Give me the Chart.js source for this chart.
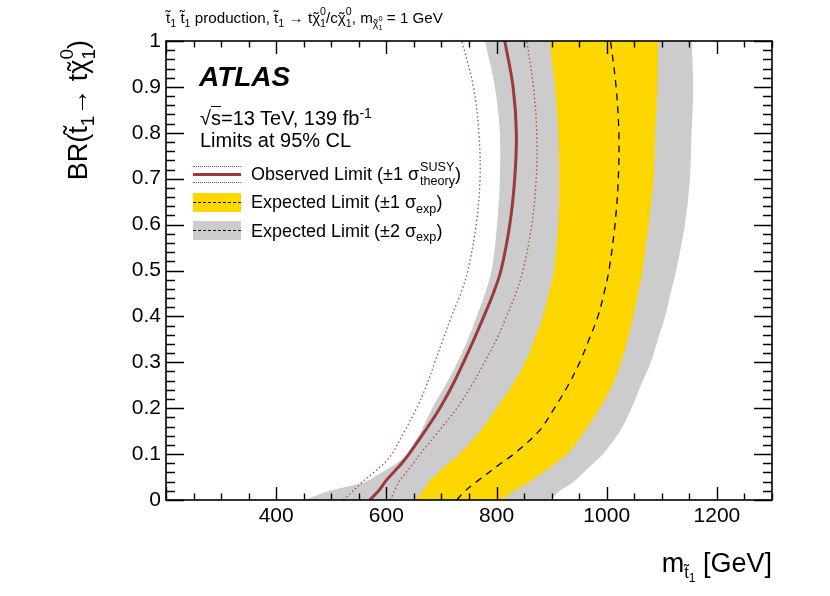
<!DOCTYPE html>
<html>
<head>
<meta charset="utf-8">
<script src="https://cdn.jsdelivr.net/npm/chart.js@4.4.1/dist/chart.umd.min.js"></script>
<style>
  body { margin: 0; background: #fff; }
  #wrap { position: relative; width: 830px; height: 596px; font-family: "Liberation Sans", Arial, sans-serif; color: #000; }
  #limits { position: absolute; left: 0; top: 0; }
  .txt { position: absolute; line-height: 1; white-space: nowrap; }
  .txt sub, .txt sup { font-size: 70%; vertical-align: baseline; position: relative; line-height: 1; }
  .txt sub { top: 0.35em; }
  .txt sup { top: -0.5em; }
  .ss { display: inline-block; position: relative; vertical-align: baseline; font-size: 70%; line-height: 1; }
  .ss .u { display: block; position: relative; top: -0.72em; height: 0; }
  .ss .d { display: block; position: relative; top: 0.4em; }
  .tc { position: relative; display: inline-block; }
  .tc i { position: absolute; left: 0; right: 0; top: 0; text-align: center; font-style: normal; }
  .sym { position: absolute; }
</style>
</head>
<body>
<div id="wrap">
  <canvas id="limits" width="830" height="596"></canvas>

  <div class="txt" style="left:166px;top:10px;font-size:15.2px">t&#771;<sub>1</sub> t&#771;<sub>1</sub> production, t&#771;<sub>1</sub> &rarr; t<span class="tc">&chi;<i>&#732;</i></span><span class="ss"><span class="u">0</span><span class="d">1</span></span>/c<span class="tc">&chi;<i>&#732;</i></span><span class="ss"><span class="u">0</span><span class="d">1</span></span>, m<sub><span class="tc">&chi;<i>&#732;</i></span><span class="ss"><span class="u">0</span><span class="d">1</span></span></sub> = 1 GeV</div>

  <div class="txt" style="left:199px;top:63.3px;font-size:28px;font-weight:bold;font-style:italic">ATLAS</div>
  <div class="txt" style="left:200px;top:108.1px;font-size:20px">&radic;<span style="border-top:1px solid #000">s</span>=13 TeV, 139 fb<sup>-1</sup></div>
  <div class="txt" style="left:200px;top:130.4px;font-size:20px">Limits at 95% CL</div>

  <div class="sym" style="left:193px;top:166px;width:48px;border-top:1.3px dotted #b04848"></div>
  <div class="sym" style="left:193px;top:172.8px;width:48px;height:3px;background:#9c3a3a"></div>
  <div class="sym" style="left:193px;top:181.5px;width:48px;border-top:1.3px dotted #b04848"></div>
  <div class="sym" style="left:193px;top:192.7px;width:48px;height:19px;background:#ffd700"></div>
  <div class="sym" style="left:193px;top:201.5px;width:48px;border-top:1.2px dashed #000"></div>
  <div class="sym" style="left:193px;top:220.7px;width:48px;height:19.3px;background:#cccccc"></div>
  <div class="sym" style="left:193px;top:229.7px;width:48px;border-top:1.2px dashed #000"></div>

  <div class="txt" style="left:251px;top:164.8px;font-size:18px">Observed Limit (&plusmn;1 &sigma;<span class="ss" style="margin-left:1px"><span class="u">SUSY</span><span class="d">theory</span></span>)</div>
  <div class="txt" style="left:251px;top:193.1px;font-size:18px">Expected Limit (&plusmn;1 &sigma;<sub>exp</sub>)</div>
  <div class="txt" style="left:251px;top:221.5px;font-size:18px">Expected Limit (&plusmn;2 &sigma;<sub>exp</sub>)</div>

  <div class="txt" style="left:65px;top:340px;width:300px;text-align:right;font-size:27px;transform-origin:0 0;transform:rotate(-90deg)">BR(t&#771;<sub>1</sub>&rarr; t<span class="tc">&chi;<i>&#732;</i></span><span class="ss"><span class="u">0</span><span class="d">1</span></span>)</div>
  <div class="txt" style="right:58px;top:550px;text-align:right;font-size:27px">m<sub style="font-size:60%;top:0.4em">t&#771;<sub style="font-size:75%;top:0.25em">1</sub></sub> [GeV]</div>
</div>

<script>
// Branching ratio grid (y) shared by all contours
var brValues = [0, 0.02, 0.04, 0.06, 0.08, 0.1, 0.15, 0.2, 0.25, 0.3, 0.35, 0.4, 0.45, 0.5, 0.6, 0.7, 0.8, 0.9, 1];

// Stop mass limits [GeV] at each BR value
var obsMass      = [570, 586, 598, 613, 628, 641, 670, 697, 720, 740, 759, 777, 794, 808, 824, 833, 836, 830, 815];
var obsDownMass  = [522, 540, 557, 577, 596, 610, 633, 655, 673, 688, 703, 718, 735, 748, 763, 770, 768, 758, 737];
var obsUpMass    = [607, 615, 623, 636, 649, 661, 695, 728, 755, 778, 800, 818, 835, 848, 864, 872, 873, 867, 855];
var expMass      = [728, 743, 764, 786, 808, 831, 877, 905, 930, 951, 968, 984, 995, 1004, 1015, 1021, 1022, 1017, 1007];
var exp1LowMass  = [652, 666, 678, 694, 713, 733, 770, 800, 828, 852, 869, 884, 895, 904, 912, 914, 912, 906, 896];
var exp1HighMass = [808, 832, 860, 884, 907, 928, 960, 987, 1010, 1026, 1038, 1048, 1057, 1065, 1076, 1085, 1088, 1092, 1093];
var exp2LowMass  = [452, 497, 562, 591, 619, 637, 663, 683, 707, 729, 748, 764, 779, 791, 801, 806, 806, 797, 779];
var exp2HighMass = [898, 915, 940, 958, 976, 993, 1024, 1045, 1062, 1080, 1093, 1106, 1116, 1126, 1142, 1151, 1154, 1157, 1154];

// Axis tick labels
var xTickLabels = [400, 600, 800, 1000, 1200];
var yTickLabels = [0, 0.1, 0.2, 0.3, 0.4, 0.5, 0.6, 0.7, 0.8, 0.9, 1];

var curve = function(masses) {
  return masses.map(function(m, i) { return {x: m, y: brValues[i]}; });
};
// closed contour: up the low edge, down the high edge.
// corner points are doubled so the spline keeps sharp corners
var band = function(low, high) {
  var up = curve(low);
  var down = curve(high).reverse();
  up.unshift(up[0]);
  up.push(up[up.length - 1]);
  down.unshift(down[0]);
  down.push(down[down.length - 1]);
  return up.concat(down);
};

// ROOT style frame with inward ticks on all four sides
var frameTicks = {
  id: 'frameTicks',
  afterDatasetsDraw: function(chart) {
    var ctx = chart.ctx;
    var a = chart.chartArea;
    var sx = chart.scales.x;
    var sy = chart.scales.y;
    var v, px, len;
    ctx.save();
    ctx.strokeStyle = '#000';
    ctx.lineWidth = 1.4;
    ctx.beginPath();
    for (v = 200; v <= 1300; v += 50) {
      px = Math.round(sx.getPixelForValue(v)) + 0.5;
      len = (v % 200 === 0) ? 13 : 6.5;
      ctx.moveTo(px, a.bottom); ctx.lineTo(px, a.bottom - len);
      ctx.moveTo(px, a.top); ctx.lineTo(px, a.top + len);
    }
    for (var i = 0; i <= 50; i++) {
      px = Math.round(sy.getPixelForValue(i * 0.02)) + 0.5;
      len = (i % 5 === 0) ? 18 : 9;
      ctx.moveTo(a.left, px); ctx.lineTo(a.left + len, px);
      ctx.moveTo(a.right, px); ctx.lineTo(a.right - len, px);
    }
    ctx.stroke();
    ctx.lineWidth = 1.6;
    ctx.strokeRect(a.left, a.top, a.right - a.left, a.bottom - a.top);
    ctx.restore();
  }
};

Chart.defaults.font.family = '"Liberation Sans", Arial, sans-serif';
Chart.defaults.color = '#000';

var ctx = document.getElementById('limits').getContext('2d');
var limitChart = new Chart(ctx, {
  type: 'line',
  data: {
    datasets: [{
      label: 'Expected',
      data: curve(expMass),
      borderColor: '#000',
      borderWidth: 1.3,
      borderDash: [7, 6],
      fill: false,
      order: 1
    }, {
      label: 'Observed',
      data: curve(obsMass),
      borderColor: '#9c3a3a',
      borderWidth: 3,
      fill: false,
      order: 1
    }, {
      label: 'Observed -1 theory',
      data: curve(obsDownMass),
      borderColor: '#b04848',
      borderWidth: 1.3,
      borderDash: [1.5, 2.5],
      fill: false,
      order: 2
    }, {
      label: 'Observed +1 theory',
      data: curve(obsUpMass),
      borderColor: '#b04848',
      borderWidth: 1.3,
      borderDash: [1.5, 2.5],
      fill: false,
      order: 2
    }, {
      label: 'Expected 1 sigma',
      data: band(exp1LowMass, exp1HighMass),
      borderWidth: 0,
      backgroundColor: '#ffd700',
      fill: 'shape',
      order: 4
    }, {
      label: 'Expected 2 sigma',
      data: band(exp2LowMass, exp2HighMass),
      borderWidth: 0,
      backgroundColor: '#cccccc',
      fill: 'shape',
      order: 5
    }]
  },
  options: {
    responsive: false,
    animation: false,
    layout: { padding: { left: 0, top: 41, right: 58, bottom: 0 } },
    elements: { point: { radius: 0 }, line: { tension: 0.35 } },
    plugins: { legend: { display: false }, tooltip: { enabled: false } },
    scales: {
      x: {
        type: 'linear',
        min: 200,
        max: 1300,
        grid: { display: false, drawTicks: false },
        border: { display: false },
        ticks: {
          font: { size: 21 },
          padding: 4,
          maxRotation: 0,
          autoSkip: false,
          callback: function(v) { return String(v); }
        },
        afterBuildTicks: function(scale) {
          scale.ticks = xTickLabels.map(function(v) { return {value: v}; });
        },
        afterFit: function(scale) { scale.height = 96; }
      },
      y: {
        type: 'linear',
        min: 0,
        max: 1,
        grid: { display: false, drawTicks: false },
        border: { display: false },
        ticks: {
          font: { size: 21 },
          padding: 5,
          autoSkip: false,
          callback: function(v) { return String(+Number(v).toFixed(1)); }
        },
        afterBuildTicks: function(scale) {
          scale.ticks = yTickLabels.map(function(v) { return {value: v}; });
        },
        afterFit: function(scale) { scale.width = 166; }
      }
    }
  },
  plugins: [frameTicks]
});
</script>
</body>
</html>
